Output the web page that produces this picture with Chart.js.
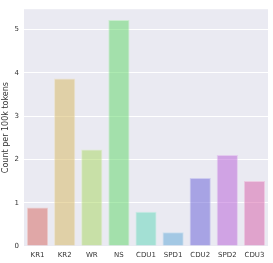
<!DOCTYPE html>
<html>
<head>
<meta charset="utf-8">
<script src="https://cdn.jsdelivr.net/npm/chart.js@4/dist/chart.umd.min.js"></script>
<style>
  body { margin: 0; background: #fff; }
</style>
</head>
<body>
<canvas id="myChart" width="273" height="263"></canvas>
<script>
const categories = ['KR1', 'KR2', 'WR', 'NS', 'CDU1', 'SPD1', 'CDU2', 'SPD2', 'CDU3'];
const counts = [0.89, 3.87, 2.23, 5.22, 0.79, 0.32, 1.57, 2.10, 1.50];
const hues = [4, 44, 84, 124, 164, 204, 244, 284, 324];
const yTicks = [0, 1, 2, 3, 4, 5];

const plotBackground = {
    id: 'plotBackground',
    beforeDraw(chart) {
        const a = chart.chartArea;
        const ctx = chart.ctx;
        ctx.save();
        ctx.fillStyle = '#eaeaf2';
        ctx.fillRect(a.left, a.top, a.right - a.left, a.bottom - a.top);
        ctx.restore();
    }
};

function barchart() {
    const ctx = document.getElementById('myChart').getContext('2d');
    const myChart = new Chart(ctx, {
        type: 'bar',
        data: {
            labels: categories,
            datasets: [{
                data: counts,
                backgroundColor: hues.map(h => 'hsla(' + h + ', 60%, 60%, 0.5)'),
                borderColor: hues.map(h => 'hsla(' + h + ', 60%, 82%, 0.6)'),
                borderWidth: 1,
                barPercentage: 0.78,
                categoryPercentage: 1
            }]
        },
        options: {
            responsive: false,
            animation: false,
            layout: { padding: { left: 1, right: 5, top: 4, bottom: 0 } },
            plugins: {
                legend: { display: false },
                tooltip: { enabled: false }
            },
            scales: {
                x: {
                    grid: { display: false, drawTicks: false },
                    border: { display: false },
                    ticks: { color: '#333', font: { family: 'DejaVu Sans', size: 7 }, padding: 5, maxRotation: 0 },
                    afterFit(scale) { scale.height = 17; }
                },
                y: {
                    min: 0,
                    max: 5.47,
                    grid: { color: '#ffffff', lineWidth: 1, drawTicks: false },
                    border: { display: false },
                    afterBuildTicks(axis) { axis.ticks = yTicks.map(v => ({ value: v })); },
                    ticks: { color: '#333', font: { family: 'DejaVu Sans', size: 7 }, padding: 5 },
                    title: {
                        display: true,
                        text: 'Count per 100k tokens',
                        color: '#333',
                        font: { family: 'DejaVu Sans', size: 8 },
                        padding: 0
                    },
                    afterFit(scale) { scale.width = 23; }
                }
            }
        },
        plugins: [plotBackground]
    });
}

barchart();
</script>
</body>
</html>
